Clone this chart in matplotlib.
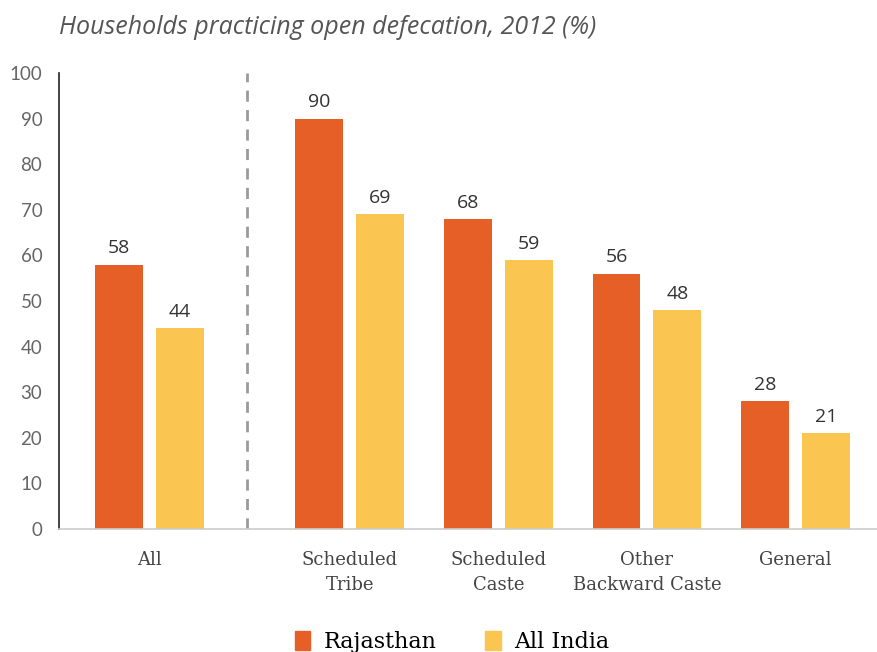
import matplotlib
matplotlib.use("Agg")
import matplotlib.pyplot as plt
from matplotlib.patches import Patch

# data
categories = ["All", "Scheduled\nTribe", "Scheduled\nCaste", "Other\nBackward Caste", "General"]
rajasthan = [58, 90, 68, 56, 28]
all_india = [44, 69, 59, 48, 21]
series_names = ["Rajasthan", "All India"]

orange = "#E55F26"
yellow = "#FBC551"

fig = plt.figure(figsize=(8.78, 6.52), dpi=100)
ax = fig.add_axes([59 / 878, 123 / 652, 1 - 59 / 878, 456 / 652])

# "All" is a bit apart from the caste groups
xpos = [0, 1.35, 2.35, 3.35, 4.35]
w = 0.323
off = 0.205

bars1 = ax.bar([x - off for x in xpos], rajasthan, width=w, color=orange)
bars2 = ax.bar([x + off for x in xpos], all_india, width=w, color=yellow)

for bars in (bars1, bars2):
    for b in bars:
        ax.text(b.get_x() + b.get_width() / 2, b.get_height() + 1.6, str(int(b.get_height())),
                ha="center", va="bottom", fontsize=14, family="Open Sans", color="#333333")

ax.axvline(0.657, color="#9a9a9a", lw=2, ls=(0, (4, 3)))

ax.set_xlim(-0.609, 4.906)
ax.set_ylim(0, 100)
ax.set_yticks(range(0, 101, 10))
ax.set_xticks(xpos)
ax.set_xticklabels(categories)

for lab in ax.get_yticklabels():
    lab.set_family("Lato")
    lab.set_fontsize(13.5)
    lab.set_color("#666666")
for lab in ax.get_xticklabels():
    lab.set_family("DejaVu Serif")
    lab.set_fontsize(13)
    lab.set_color("#444444")
    lab.set_linespacing(1.45)

ax.tick_params(axis="both", length=0)
ax.tick_params(axis="y", pad=12)
ax.tick_params(axis="x", pad=16)

ax.spines["top"].set_visible(False)
ax.spines["right"].set_visible(False)
ax.spines["left"].set_color("#222222")
ax.spines["left"].set_linewidth(1.2)
ax.spines["bottom"].set_color("#cccccc")
ax.spines["bottom"].set_linewidth(1.2)

fig.text(59 / 878, 1 - 28 / 652, "Households practicing open defecation, 2012 (%)",
         ha="left", va="center", fontsize=18, style="italic", family="Open Sans", color="#555555")

handles = [Patch(color=orange), Patch(color=yellow)]
fig.legend(handles, series_names, loc="center", bbox_to_anchor=(0.515, 0.015), ncol=2, frameon=False,
           prop={"family": "DejaVu Serif", "size": 16}, handlelength=0.7, handleheight=0.9,
           handletextpad=0.6, columnspacing=2.2)

fig.savefig("out.png", dpi=100)
